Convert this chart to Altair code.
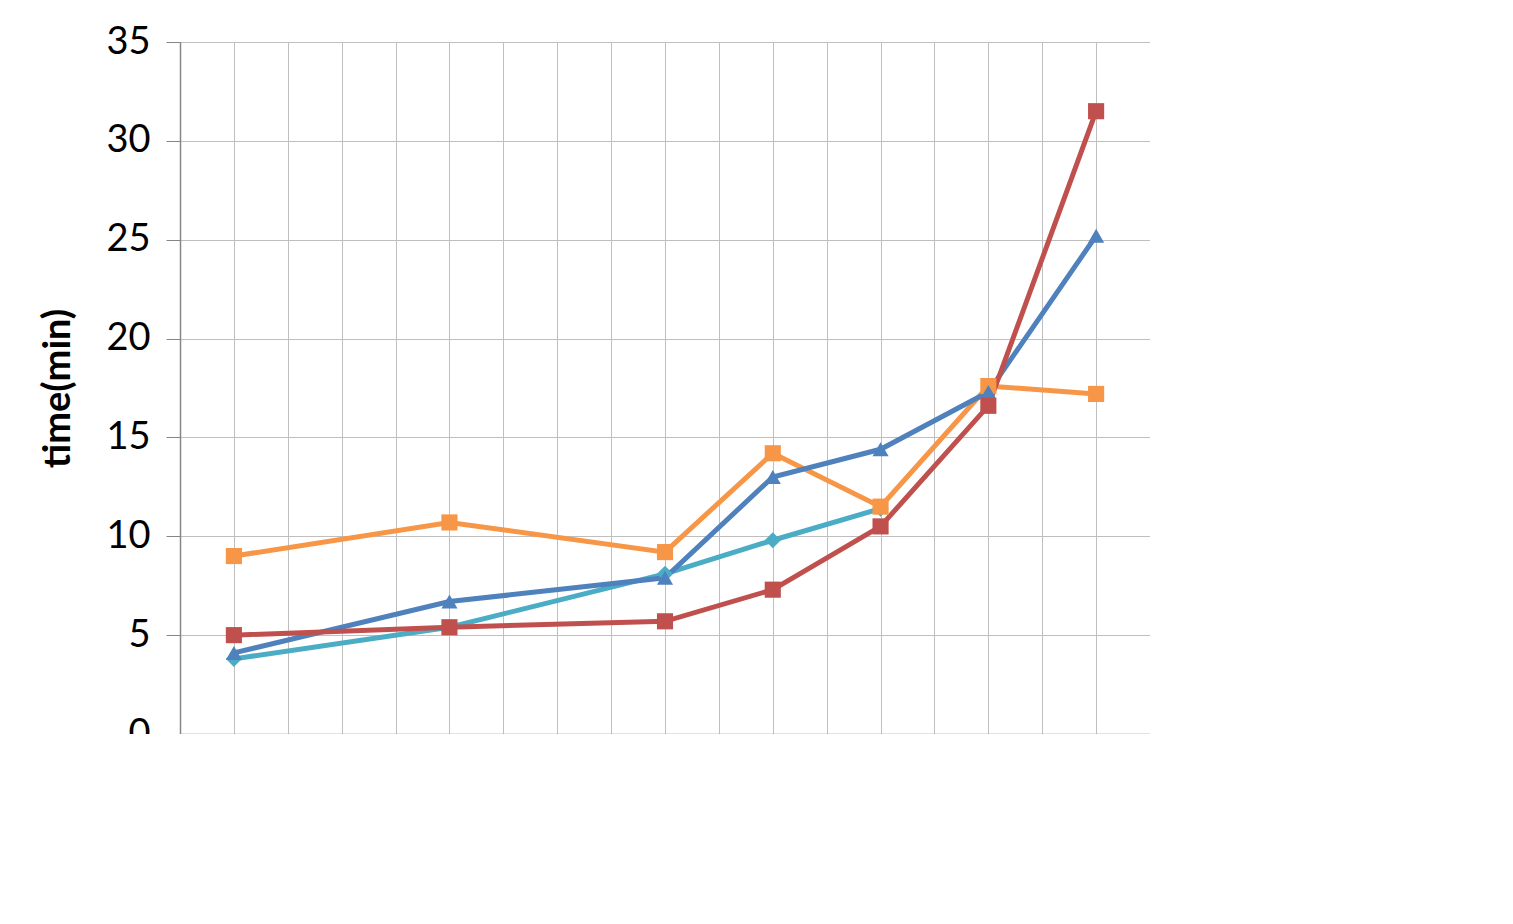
import altair as alt
import pandas as pd

categories = ["2", "4", "8", "16", "32", "64", "128", "256", "512"]
series_names = ["H-BNLJ", "PGBJ", "RankReduce", "H-ZKNNJ"]
colors = ["#4BACC6", "#F79646", "#4F81BD", "#C0504D"]
shapes = ["diamond", "square", "triangle-up", "square"]

hbnlj_x = ["2", "8", "32", "64", "128"]
hbnlj_y = [3.8, 5.4, 8.1, 9.8, 11.4]
pgbj_x = ["2", "8", "32", "64", "128", "256", "512"]
pgbj_y = [9.0, 10.7, 9.2, 14.2, 11.5, 17.6, 17.2]
rank_x = ["2", "8", "32", "64", "128", "256", "512"]
rank_y = [4.1, 6.7, 7.9, 13.0, 14.4, 17.3, 25.2]
zk_x = ["2", "8", "32", "64", "128", "256", "512"]
zk_y = [5.0, 5.4, 5.7, 7.3, 10.5, 16.6, 31.5]

rows = []
for name, xs, ys in [("H-BNLJ", hbnlj_x, hbnlj_y), ("PGBJ", pgbj_x, pgbj_y),
                     ("RankReduce", rank_x, rank_y), ("H-ZKNNJ", zk_x, zk_y)]:
    for x, y in zip(xs, ys):
        rows.append({"series": name, "idx": categories.index(x), "cat": x, "value": y})
df = pd.DataFrame(rows)

W, H = 970, 692
font = "Lato"
grid_vals = [i * 0.5 - 0.5 for i in range(19)]
tick_vals = [i - 0.5 for i in range(10)]
lbl = "[" + ",".join('"' + c + '"' for c in categories) + "]"
label_expr = "datum.value % 1 == 0 ? " + lbl + "[datum.value] : ''"

xscale = alt.Scale(domain=[-0.5, 8.5], nice=False, zero=False)
yscale = alt.Scale(domain=[0, 35], nice=False)
color = alt.Color("series:N", scale=alt.Scale(domain=series_names, range=colors),
                  legend=alt.Legend(title=None, orient="none", legendX=1005, legendY=285,
                                    labelFontSize=38, labelFont=font, symbolSize=300,
                                    symbolType="square",
                                    symbolStrokeWidth=0, rowPadding=30, labelOffset=12,
                                    labelLimit=400))

base = alt.Chart(df)
lines = base.mark_line(strokeWidth=5).encode(
    x=alt.X("idx:Q", scale=xscale,
            axis=alt.Axis(values=grid_vals, grid=True, ticks=False,
                          labelExpr=label_expr,
                          labelFontSize=38, labelFont=font, labelPadding=48,
                          title="#Nearest neighbours", titleFontSize=38, titleFont=font,
                          titleFontWeight="bold", titlePadding=25, titleColor="black",
                          labelColor="black", domainColor="#868686", gridColor="#BFBFBF")),
    y=alt.Y("value:Q", scale=yscale,
            axis=alt.Axis(values=list(range(0, 36, 5)), tickSize=14, tickColor="#868686",
                          labelFontSize=38, labelFont=font, labelPadding=16,
                          title="time(min)", titleFontSize=38, titleFont=font,
                          titleFontWeight="bold", titlePadding=28, titleColor="black",
                          labelColor="black", domainColor="#868686", gridColor="#BFBFBF")),
    color=alt.Color("series:N", scale=alt.Scale(domain=series_names, range=colors), legend=None),
    detail="series:N",
)
points = base.mark_point(filled=True, size=260, opacity=1).encode(
    x=alt.X("idx:Q", scale=xscale), y=alt.Y("value:Q", scale=yscale),
    color=color, shape=alt.Shape("series:N", scale=alt.Scale(domain=series_names, range=shapes),
                                 legend=None),
)
ticks = alt.Chart(pd.DataFrame({"t": tick_vals})).mark_rule(color="#868686", strokeWidth=1.5).encode(
    x=alt.X("t:Q", scale=xscale), y=alt.value(H), y2=alt.value(H + 14))

box = alt.Chart(pd.DataFrame({"a": [0]})).mark_rect(fill="white", stroke="#4F81BD", strokeWidth=1).encode(
    x=alt.value(1140), x2=alt.value(1317), y=alt.value(815), y2=alt.value(863))
note = alt.Chart(pd.DataFrame({"a": ["#data = 2*10^5"]})).mark_text(
    fontSize=19, font=font, color="black").encode(
    x=alt.value(1228), y=alt.value(840), text="a:N")

chart = alt.layer(lines, points, ticks, box, note).properties(
    width=W, height=H, autosize=alt.AutoSizeParams(type="none"),
    padding={"left": 172, "top": 34, "right": 0, "bottom": 0},
).configure_view(stroke=None).configure_axis(domainWidth=1.5)

chart.save("out.html", embed_options={"renderer": "svg", "actions": False})
